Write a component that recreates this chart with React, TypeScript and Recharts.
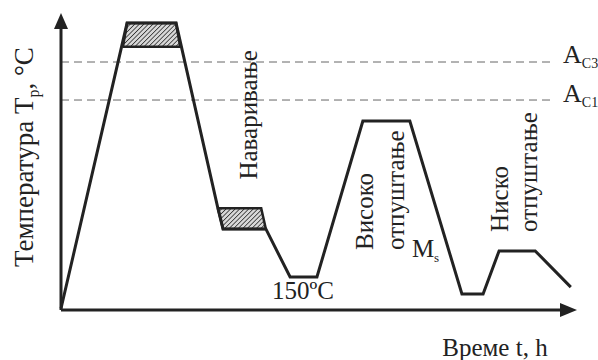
import React from "react";
import {
  ComposedChart,
  Line,
  Area,
  XAxis,
  YAxis,
  ReferenceLine,
  ReferenceDot,
} from "recharts";

// heat-treatment cycle, time (arbitrary units) vs temperature (arbitrary units)
const cycleTime = [0, 12.8, 22.3, 30.4, 31.4, 39.7, 44.4, 49.6, 58.5, 67.6, 77.7, 81.8, 84.9, 91.9, 98.8];
const cycleTemp = [0.5, 96.6, 96.6, 34.3, 27.3, 27.3, 11.1, 11.1, 63.6, 63.6, 5.4, 5.4, 19.9, 19.9, 7.7];

// hatched zones (austenitizing and surfacing)
const hatch1Time = [12.0, 12.8, 22.3, 23.1];
const hatch1Low = [88.6, 88.6, 88.6, 88.6];
const hatch1High = [88.6, 96.6, 96.6, 88.6];

const hatch2Time = [30.4, 31.4, 38.8, 39.7];
const hatch2Low = [34.3, 27.3, 27.3, 27.3];
const hatch2High = [34.3, 34.3, 34.3, 27.3];

// critical temperatures
const critNames = ["C3", "C1"];
const critTemps = [83.5, 70.7];

const cycle = cycleTime.map((t, i) => ({ t, T: cycleTemp[i] }));
const hatch1 = hatch1Time.map((t, i) => ({ t, range: [hatch1Low[i], hatch1High[i]] }));
const hatch2 = hatch2Time.map((t, i) => ({ t, range: [hatch2Low[i], hatch2High[i]] }));

const INK = "#222";
const FONT = "'Liberation Serif', 'Times New Roman', serif";

const vText = (label: string, anchor: string) => (p: any) => (
  <text
    x={p.cx}
    y={p.cy}
    transform={`rotate(-90 ${p.cx} ${p.cy})`}
    textAnchor={anchor}
    fontSize={25}
    fill={INK}
    fontFamily={FONT}
  >
    {label}
  </text>
);

const arrowRight = (p: any) => (
  <polygon points={`${p.cx},${p.cy} ${p.cx - 17},${p.cy - 7} ${p.cx - 17},${p.cy + 7}`} fill={INK} />
);
const arrowUp = (p: any) => (
  <polygon points={`${p.cx},${p.cy} ${p.cx - 7},${p.cy + 16} ${p.cx + 7},${p.cy + 16}`} fill={INK} />
);

export default function App() {
  return (
    <div style={{ position: "absolute", left: 0, top: 0, background: "#fff" }}>
      <ComposedChart width={598} height={360} margin={{ top: 13, right: 21, bottom: 50, left: 61 }}>
        <defs>
          <pattern id="hatch" width="3.2" height="3.2" patternUnits="userSpaceOnUse" patternTransform="rotate(45)">
            <rect width="3.2" height="3.2" fill="#d8d8d8" />
            <line x1="0" y1="0" x2="0" y2="3.2" stroke="#333" strokeWidth="1.6" />
          </pattern>
        </defs>
        <XAxis type="number" dataKey="t" domain={[0, 100]} hide />
        <YAxis type="number" domain={[0, 100]} hide />

        {critTemps.map((T, i) => (
          <ReferenceLine
            key={critNames[i]}
            segment={[{ x: 0, y: T }, { x: 95.3, y: T }]}
            stroke="#666"
            strokeWidth={1}
            strokeDasharray="8 5"
          />
        ))}
        {critTemps.map((T, i) => (
          <ReferenceDot
            key={"l" + critNames[i]}
            x={97.3}
            y={T - 0.5}
            ifOverflow="visible"
            shape={(p: any) => (
              <text x={p.cx} y={p.cy} fontSize={26} fill={INK} fontFamily={FONT}>
                A
                <tspan fontSize={14} dy={5}>{critNames[i]}</tspan>
              </text>
            )}
          />
        ))}

        <Area data={hatch1} dataKey="range" type="linear" stroke={INK} strokeWidth={2.5} fill="url(#hatch)" fillOpacity={1} isAnimationActive={false} />
        <Area data={hatch2} dataKey="range" type="linear" stroke={INK} strokeWidth={2.5} fill="url(#hatch)" fillOpacity={1} isAnimationActive={false} />
        <Line data={cycle} dataKey="T" type="linear" stroke={INK} strokeWidth={3} dot={false} isAnimationActive={false} />

        {/* axes */}
        <ReferenceLine segment={[{ x: 0, y: 0 }, { x: 97, y: 0 }]} stroke={INK} strokeWidth={3} ifOverflow="visible" />
        <ReferenceLine segment={[{ x: 0, y: 0 }, { x: 0, y: 96 }]} stroke={INK} strokeWidth={3} ifOverflow="visible" />
        <ReferenceDot x={100} y={0} ifOverflow="visible" shape={arrowRight} />
        <ReferenceDot x={0} y={100} ifOverflow="visible" shape={arrowUp} />

        {/* annotations */}
        <ReferenceDot x={38.0} y={65.7} ifOverflow="visible" shape={vText("Наваривање", "middle")} />
        <ReferenceDot x={60.5} y={20.2} ifOverflow="visible" shape={vText("Високо", "start")} />
        <ReferenceDot x={66.5} y={20.2} ifOverflow="visible" shape={vText("отпуштање", "start")} />
        <ReferenceDot x={86.6} y={26.3} ifOverflow="visible" shape={vText("Ниско", "start")} />
        <ReferenceDot x={92.2} y={26.3} ifOverflow="visible" shape={vText("отпуштање", "start")} />
        <ReferenceDot
          x={68.0}
          y={17.8}
          ifOverflow="visible"
          shape={(p: any) => (
            <text x={p.cx} y={p.cy} fontSize={25} fill={INK} fontFamily={FONT}>
              M<tspan fontSize={13} dy={5}>s</tspan>
            </text>
          )}
        />
        <ReferenceDot
          x={46.9}
          y={3.7}
          ifOverflow="visible"
          shape={(p: any) => (
            <text x={p.cx} y={p.cy} textAnchor="middle" fontSize={25} fill={INK} fontFamily={FONT}>
              150ºC
            </text>
          )}
        />
        <ReferenceDot
          x={84.1}
          y={-15.5}
          ifOverflow="visible"
          shape={(p: any) => (
            <text x={p.cx} y={p.cy} textAnchor="middle" fontSize={25} fill={INK} fontFamily={FONT}>
              Време t, h
            </text>
          )}
        />
        <ReferenceDot
          x={-5.4}
          y={51.5}
          ifOverflow="visible"
          shape={(p: any) => (
            <text
              x={p.cx}
              y={p.cy}
              transform={`rotate(-90 ${p.cx} ${p.cy})`}
              textAnchor="middle"
              fontSize={27}
              fill={INK}
              fontFamily={FONT}
            >
              Температура T<tspan fontSize={16} dy={6}>р</tspan>
              <tspan dy={-6}>, °C</tspan>
            </text>
          )}
        />
      </ComposedChart>
    </div>
  );
}
